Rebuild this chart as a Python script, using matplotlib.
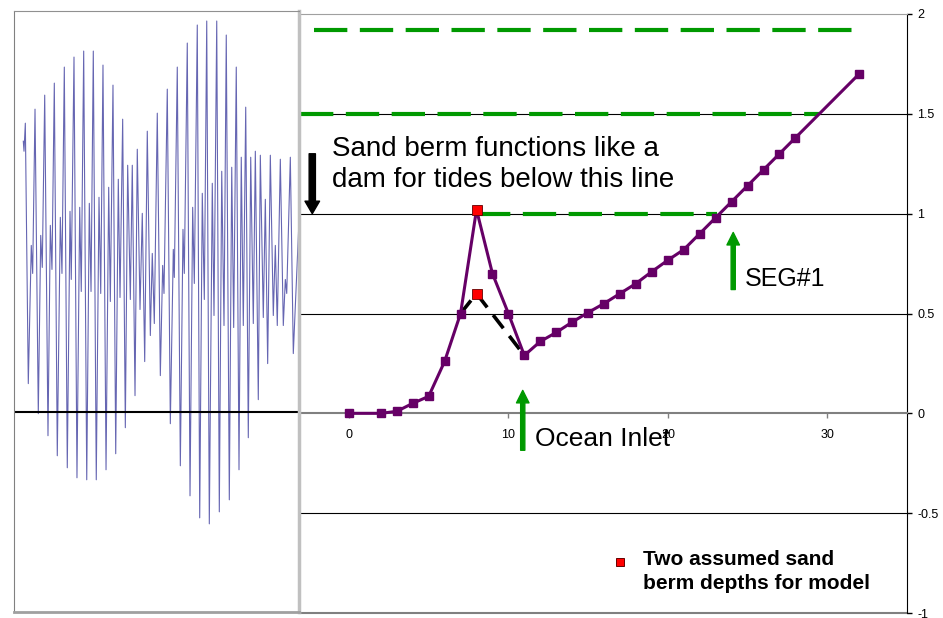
import matplotlib
matplotlib.use("Agg")
import matplotlib.pyplot as plt

plt.rcParams["font.family"] = ["Liberation Sans", "DejaVu Sans"]
plt.rcParams["lines.scale_dashes"] = False

# berm / channel bottom profile
station = [0, 2, 3, 4, 5, 6, 7, 8, 9, 10, 11, 12, 13, 14, 15, 16, 17, 18, 19,
           20, 21, 22, 23, 24, 25, 26, 27, 28, 32]
depth = [0.0, 0.0, 0.01, 0.05, 0.085, 0.26, 0.5, 1.02, 0.70, 0.50, 0.29, 0.36,
         0.405, 0.457, 0.505, 0.55, 0.60, 0.65, 0.71, 0.767, 0.82, 0.90, 0.98,
         1.06, 1.14, 1.22, 1.30, 1.38, 1.70]

# lower berm alternative
alt_station = [7, 8, 11]
alt_depth = [0.5, 0.6, 0.29]

# two assumed berm depths
berm_station = [8, 8]
berm_depth = [1.02, 0.6]

# green tide levels
green_levels = [1.92, 1.5, 1.0]
green_start = [-2.2, -3.1, 8.0]
green_end = [31.7, 29.5, 23.1]

grid_levels = [-0.5, 0.5, 1.0, 1.5]
x_ticks = [0, 10, 20, 30]
y_ticks = [2, 1.5, 1, 0.5, 0, -0.5, -1]
y_tick_labels = ["2", "1.5", "1", "0.5", "0", "-0.5", "-1"]

# tide record (hours, level)
tide_hours = [11.9, 12.8, 14.5, 18.3, 22.1, 23.9, 26.9, 31.1, 34.2, 36.2, 39.3,
              43.5, 46.5, 48.6, 51.6, 55.4, 59.3, 61.4, 64.4, 68.2, 71.7, 73.3,
              76.8, 80.6, 84.1, 86.1, 89.2, 93.1, 96.4, 98.6, 101.5, 105.3,
              108.8, 111.0, 113.9, 117.8, 121.2, 123.3, 126.7, 130.2, 133.5,
              135.7, 139.1, 142.5, 145.5, 148.9, 151.4, 154.9, 157.8, 161.3,
              164.2, 167.3, 170.6, 174.5, 177.0, 179.6, 183.4, 187.3, 190.3,
              192.0, 196.2, 200.1, 203.9, 205.2, 209.0, 212.9, 216.3, 218.0,
              221.8, 225.3, 228.7, 230.8, 234.6, 237.7, 241.0, 243.6, 246.7,
              250.0, 253.8, 256.0, 259.5, 262.8, 265.9, 268.8, 271.7, 275.6,
              278.7, 281.2, 284.5, 288.0, 290.9, 293.5, 296.6, 299.9, 303.0,
              306.3, 308.9, 312.7, 315.3, 319.1, 321.7, 324.7, 328.1, 331.9,
              334.5, 337.0, 340.9, 344.7, 347.3, 349.1, 353.7, 357.5, 365.2]
tide_level = [1.35, 1.30, 1.44, 0.14, 0.83, 0.69, 1.51, -0.01, 0.88, 0.72, 1.58,
              -0.12, 0.93, 0.71, 1.64, -0.22, 0.97, 0.69, 1.72, -0.28, 1.00, 0.66,
              1.77, -0.33, 1.02, 0.60, 1.80, -0.34, 1.04, 0.60, 1.80, -0.34,
              1.07, 0.59, 1.73, -0.29, 1.12, 0.55, 1.63, -0.21, 1.16,
              0.57, 1.46, -0.08, 1.23, 0.56, 1.23, 0.08, 1.31, 0.51,
              0.99, 0.25, 1.40, 0.38, 0.79, 0.44, 1.49, 0.18, 0.73,
              0.59, 1.61, -0.06, 0.81, 0.67, 1.72, -0.27, 0.91, 0.69,
              1.84, -0.42, 1.02, 0.64, 1.93, -0.53, 1.09, 0.56, 1.95,
              -0.56, 1.14, 0.48, 1.95, -0.50, 1.20, 0.43, 1.88, -0.44,
              1.22, 0.42, 1.72, -0.29, 1.27, 0.43, 1.52, -0.13, 1.27,
              0.44, 1.30, 0.06, 1.28, 0.47, 1.06, 0.24, 1.28, 0.48,
              0.83, 0.43, 1.26, 0.43, 0.66, 0.59, 1.27, 0.29, 0.99]

GREEN = "#009900"
PURPLE = "#660066"

fig = plt.figure(figsize=(9.43, 6.18), dpi=100)
ax = fig.add_axes([300 / 943, 5 / 618, 607 / 943, 599 / 618])

ax.set_xlim(-3.07, 35.0)
ax.set_ylim(-1, 2)

for lev in grid_levels:
    ax.axhline(lev, color="black", linewidth=0.8, zorder=1)

for lev, x0, x1 in zip(green_levels, green_start, green_end):
    ax.plot([x0, x1], [lev, lev], color=GREEN, linewidth=3, dashes=(24, 9),
            zorder=3)

ax.plot(alt_station, alt_depth, color="black", linewidth=2.6, dashes=(12, 7),
        zorder=4)
ax.plot(station, depth, color=PURPLE, linewidth=2.2, marker="s", markersize=6,
        zorder=5)
ax.plot(berm_station, berm_depth, linestyle="none", marker="s", markersize=6.5,
        markerfacecolor="red", markeredgecolor="#660000", markeredgewidth=0.6,
        zorder=6)

# axes styling
ax.spines["left"].set_visible(False)
ax.spines["top"].set_color("#a0a0a0")
ax.spines["right"].set_color("black")
ax.spines["bottom"].set_position(("data", 0))
ax.spines["bottom"].set_color("#808080")
ax.spines["bottom"].set_linewidth(1.5)
ax.axhline(-1, color="#808080", linewidth=1.5, clip_on=False, zorder=2)

ax.yaxis.tick_right()
ax.set_yticks(y_ticks)
ax.set_yticklabels(y_tick_labels)
ax.set_xticks(x_ticks)
ax.tick_params(axis="y", direction="out", length=3.5, width=1, pad=4,
               labelsize=9, colors="black")
ax.tick_params(axis="x", direction="out", length=3.5, width=1, pad=8,
               labelsize=9, color="#808080", labelcolor="black")

# annotations
ax.annotate("", xy=(-2.3, 1.0), xytext=(-2.3, 1.30),
            arrowprops=dict(facecolor="black", edgecolor="black", width=4.5,
                            headwidth=10.5, headlength=9), zorder=7)
ax.text(-1.07, 1.39, "Sand berm functions like a\ndam for tides below this line",
        fontsize=20, va="top", ha="left", linespacing=1.25, zorder=7)

ax.annotate("", xy=(10.9, 0.115), xytext=(10.9, -0.185),
            arrowprops=dict(facecolor=GREEN, edgecolor=GREEN, width=3,
                            headwidth=9, headlength=9), zorder=7)
ax.text(11.67, -0.165, "Ocean Inlet", fontsize=19, va="baseline", ha="left",
        zorder=7)

ax.annotate("", xy=(24.1, 0.906), xytext=(24.1, 0.62),
            arrowprops=dict(facecolor=GREEN, edgecolor=GREEN, width=3,
                            headwidth=9, headlength=9), zorder=7)
ax.text(24.85, 0.636, "SEG#1", fontsize=18, va="baseline", ha="left", zorder=7)

# legend entry
ax.plot([17.0], [-0.746], linestyle="none", marker="s", markersize=5.5,
        markerfacecolor="red", markeredgecolor="#660000", markeredgewidth=0.7)
ax.text(18.44, -0.685, "Two assumed sand\nberm depths for model", fontsize=15,
        fontweight="bold", va="top", ha="left", linespacing=1.35)

# tide inset
inset = fig.add_axes([14 / 943, 6 / 618, 285 / 943, 601 / 618])
inset.plot(tide_hours, tide_level, color="#000080", linewidth=0.8, alpha=0.6)
inset.axhline(0, color="black", linewidth=1.5)
inset.set_xlim(0, 364.8)
inset.set_ylim(-1.0, 2.0)
inset.set_xticks([])
inset.set_yticks([])
inset.spines["left"].set_color("#808080")
inset.spines["top"].set_color("#909090")
inset.spines["right"].set_color("#c0c0c0")
inset.spines["right"].set_linewidth(2.5)
inset.spines["bottom"].set_color("#a0a0a0")
inset.spines["bottom"].set_linewidth(2)

fig.savefig("out.png", dpi=100)
